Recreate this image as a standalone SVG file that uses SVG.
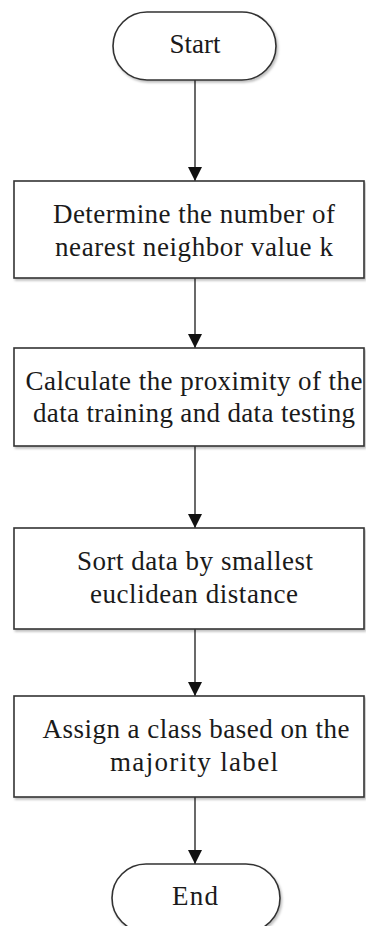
<svg xmlns="http://www.w3.org/2000/svg" width="366" height="926" viewBox="0 0 366 926">
  <defs>
    <marker id="arrow" markerUnits="userSpaceOnUse" markerWidth="14" markerHeight="16" refX="14" refY="7" orient="auto">
      <path d="M0,0 L14,7 L0,14 Z" fill="#111"/>
    </marker>
    <filter id="shadow" x="-10%" y="-10%" width="120%" height="130%">
      <feDropShadow dx="1.5" dy="2" stdDeviation="1.2" flood-color="#000" flood-opacity="0.25"/>
    </filter>
    <style>
      .shape { fill: #ffffff; stroke: #333333; stroke-width: 1.6; filter: url(#shadow); }
      .label { font-family: "Liberation Serif", "Times New Roman", serif; font-size: 27px; fill: #1a1a1a; text-anchor: middle; }
      .link { stroke: #444444; stroke-width: 1.6; fill: none; marker-end: url(#arrow); }
    </style>
  </defs>
  <rect width="366" height="926" fill="#ffffff"/>

  <g id="connectors">
    <line class="link" x1="195" y1="80" x2="195" y2="181"/>
    <line class="link" x1="195" y1="278" x2="195" y2="348"/>
    <line class="link" x1="195" y1="446" x2="195" y2="528"/>
    <line class="link" x1="195" y1="629" x2="195" y2="696"/>
    <line class="link" x1="195" y1="797" x2="195" y2="864"/>
  </g>

  <g id="start">
    <rect class="shape" x="113" y="12" width="163" height="68" rx="34" ry="34"/>
    <text class="label" x="195" y="53" textLength="51" lengthAdjust="spacing">Start</text>
  </g>

  <g id="determine-k">
    <rect class="shape" x="14" y="181" width="350" height="97"/>
    <text class="label" x="194" y="223" textLength="282" lengthAdjust="spacing">Determine the number of</text>
    <text class="label" x="194" y="256" textLength="278" lengthAdjust="spacing">nearest neighbor value k</text>
  </g>

  <g id="calculate-proximity">
    <rect class="shape" x="14" y="348" width="350" height="98"/>
    <text class="label" x="194" y="390" textLength="337" lengthAdjust="spacing">Calculate the proximity of the</text>
    <text class="label" x="194" y="422" textLength="322" lengthAdjust="spacing">data training and data testing</text>
  </g>

  <g id="sort-data">
    <rect class="shape" x="14" y="528" width="350" height="101"/>
    <text class="label" x="195" y="570" textLength="236" lengthAdjust="spacing">Sort data by smallest</text>
    <text class="label" x="194" y="603" textLength="208" lengthAdjust="spacing">euclidean distance</text>
  </g>

  <g id="assign-class">
    <rect class="shape" x="14" y="696" width="350" height="101"/>
    <text class="label" x="196" y="738" textLength="307" lengthAdjust="spacing">Assign a class based on the</text>
    <text class="label" x="194" y="771" textLength="168" lengthAdjust="spacing">majority label</text>
  </g>

  <g id="end">
    <rect class="shape" x="112" y="864" width="168" height="68" rx="34" ry="34"/>
    <text class="label" x="195" y="905" textLength="46" lengthAdjust="spacing">End</text>
  </g>
</svg>
